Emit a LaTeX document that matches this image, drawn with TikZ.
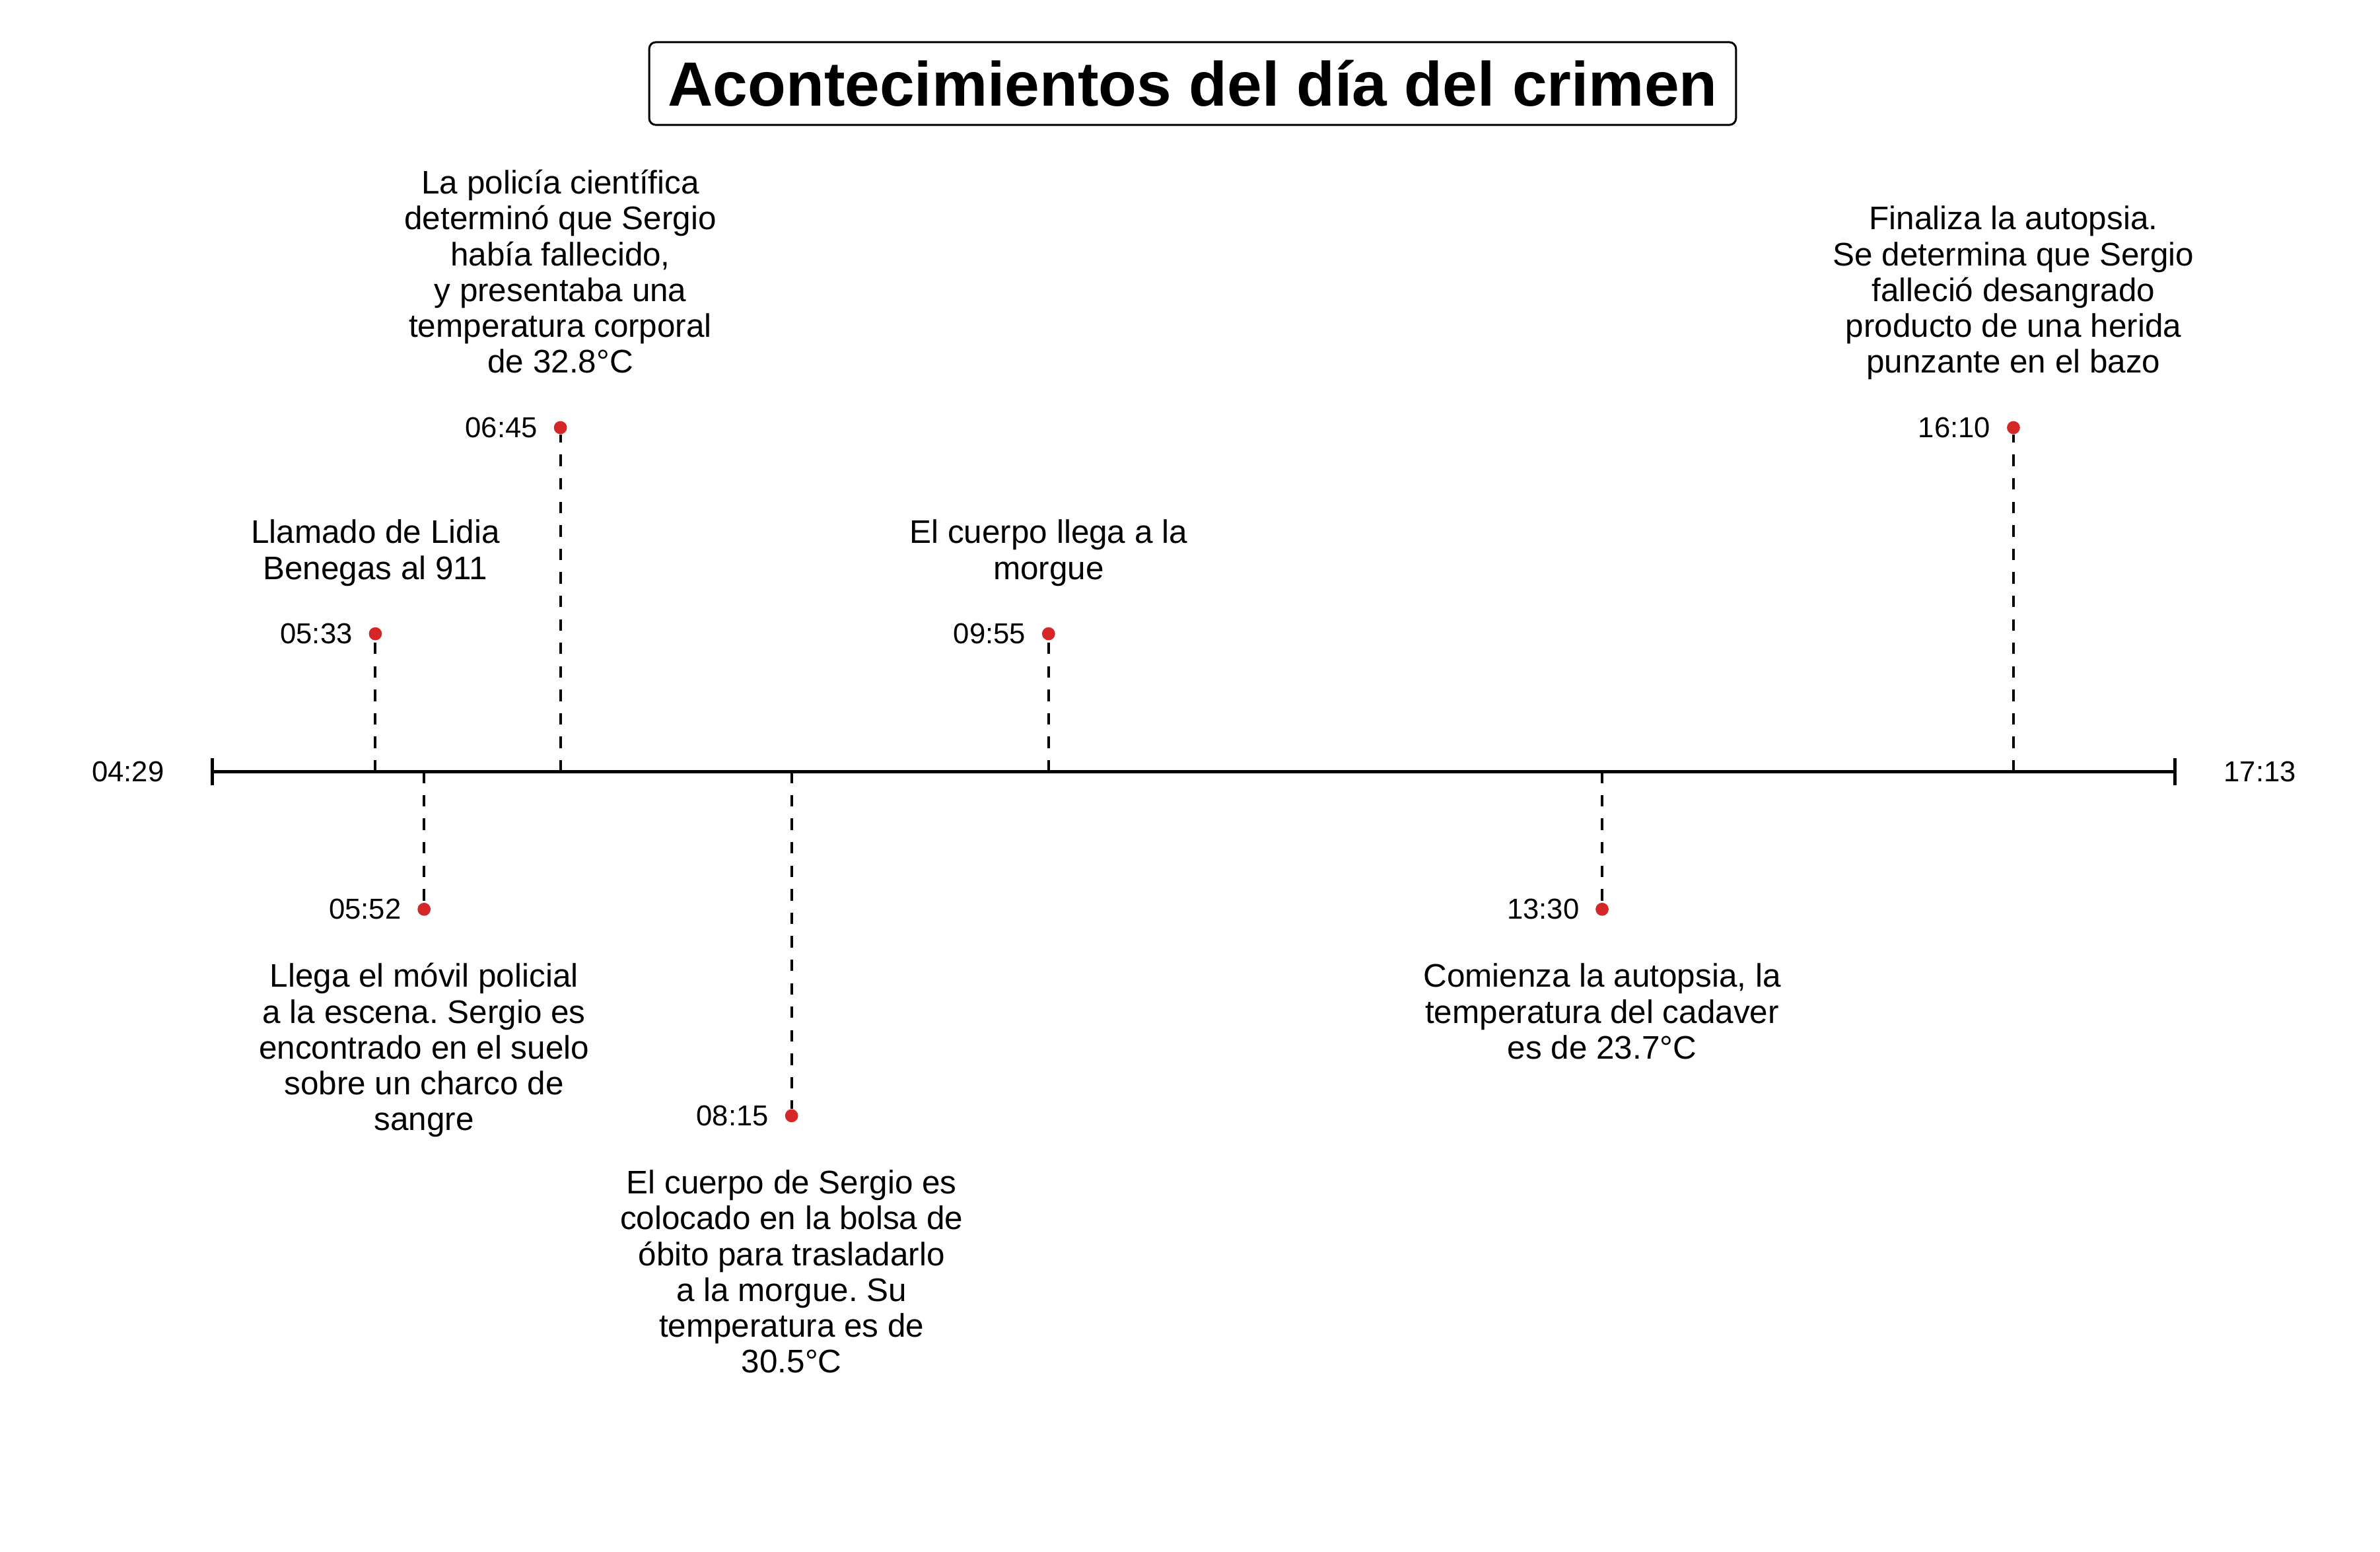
\documentclass[tikz,border=0pt]{standalone}
\usepackage{fontspec}
\setmainfont{Liberation Sans}
\usetikzlibrary{arrows.meta}
\definecolor{dotred}{RGB}{214,39,40}
\newcommand\topstrut{\rule{0pt}{10pt}}
\newcommand\botstrut{\rule[-4pt]{0pt}{4pt}}
\frenchspacing
\begin{document}
\begin{tikzpicture}[x=0.5pt,y=-0.5pt,
  dot/.style={circle,fill=dotred,inner sep=0pt,minimum size=4.3pt},
  dashln/.style={line width=0.87pt,dash pattern=on 3.76pt off 3.98pt},
  axisln/.style={line width=1.02pt},
  tlabel/.style={font=\fontsize{9.5}{11}\selectfont,inner sep=0pt},
  desc/.style={font=\fontsize{10.75}{11.8}\selectfont,align=center,inner sep=0pt},
  titlebox/.style={draw,line width=0.65pt,rounded corners=2.2pt,minimum width=358pt,minimum height=27.25pt,inner sep=0pt,font=\fontsize{20.6}{24}\selectfont\bfseries}]
\useasboundingbox (0,0) rectangle (1568,1022);

% title
\node[titlebox] (title) at (785.7,55.05) {Acontecimientos del día del crimen};

% axis
\coordinate (axL) at (139,508.3);
\coordinate (axR) at (1434,508.3);
\draw[axisln,{Bar[width=9pt]}-{Bar[width=9pt]}] (axL) -- (axR);
\node[tlabel,anchor=east] (tL) at (108.5,508.3) {04:29};
\node[tlabel,anchor=west] (tR) at (1464.7,508.3) {17:13};

% 05:33
\coordinate (a1) at (247.3,508.3);
\node[dot] (d1) at (247.3,417.5) {};
\draw[dashln] (a1) -- (d1);
\node[tlabel,anchor=east] (t1) at (232.6,417.5) {05:33};
\node[desc,anchor=south] (e1) at (247.3,390) {Llamado de Lidia\\Benegas al 911\botstrut};

% 05:52
\coordinate (a2) at (279.4,508.3);
\node[dot] (d2) at (279.4,599) {};
\draw[dashln] (a2) -- (d2);
\node[tlabel,anchor=east] (t2) at (264.7,599) {05:52};
\node[desc,anchor=north] (e2) at (279.4,630) {\topstrut Llega el móvil policial\\a la escena. Sergio es\\encontrado en el suelo\\sobre un charco de\\sangre};

% 06:45
\coordinate (a3) at (369.2,508.3);
\node[dot] (d3) at (369.2,281.7) {};
\draw[dashln] (a3) -- (d3);
\node[tlabel,anchor=east] (t3) at (354.5,281.7) {06:45};
\node[desc,anchor=south] (e3) at (369.2,254.2) {La policía científica\\determinó que Sergio\\había fallecido,\\y presentaba una\\temperatura corporal\\de 32.8°C\botstrut};

% 08:15
\coordinate (a4) at (521.5,508.3);
\node[dot] (d4) at (521.5,735) {};
\draw[dashln] (a4) -- (d4);
\node[tlabel,anchor=east] (t4) at (506.8,735) {08:15};
\node[desc,anchor=north] (e4) at (521.5,766) {\topstrut El cuerpo de Sergio es\\colocado en la bolsa de\\óbito para trasladarlo\\a la morgue. Su\\temperatura es de\\30.5°C};

% 09:55
\coordinate (a5) at (690.8,508.3);
\node[dot] (d5) at (690.8,417.5) {};
\draw[dashln] (a5) -- (d5);
\node[tlabel,anchor=east] (t5) at (676.1,417.5) {09:55};
\node[desc,anchor=south] (e5) at (690.8,390) {El cuerpo llega a la\\morgue\botstrut};

% 13:30
\coordinate (a6) at (1055.5,508.3);
\node[dot] (d6) at (1055.5,599) {};
\draw[dashln] (a6) -- (d6);
\node[tlabel,anchor=east] (t6) at (1040.8,599) {13:30};
\node[desc,anchor=north] (e6) at (1055.5,630) {\topstrut Comienza la autopsia, la\\temperatura del cadaver\\es de 23.7°C};

% 16:10
\coordinate (a7) at (1326.5,508.3);
\node[dot] (d7) at (1326.5,281.7) {};
\draw[dashln] (a7) -- (d7);
\node[tlabel,anchor=east] (t7) at (1311.8,281.7) {16:10};
\node[desc,anchor=south] (e7) at (1326.5,254.2) {Finaliza la autopsia.\\Se determina que Sergio\\falleció desangrado\\producto de una herida\\punzante en el bazo\botstrut};
\end{tikzpicture}
\end{document}
